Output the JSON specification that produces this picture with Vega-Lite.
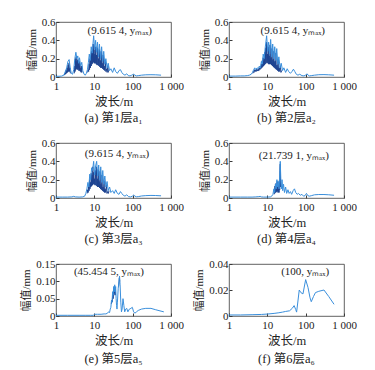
{
"$schema": "https://vega.github.io/schema/vega-lite/v6.json",
"padding": {"left": 20, "top": 15, "right": 2, "bottom": 0},
"data": {"name": "d"},
"datasets": {"d": [
{"p":"a","s":"T","x":46,"y":0.5,"t":"(9.615 4, yₘₐₓ)"},
{"p":"a","s":"L","x":1,"y":0.008},{"p":"a","s":"L","x":1.2,"y":0.008},{"p":"a","s":"L","x":1.4,"y":0.01},{"p":"a","s":"L","x":1.6,"y":0.02},{"p":"a","s":"L","x":1.75,"y":0.06},{"p":"a","s":"L","x":1.9,"y":0.1},{"p":"a","s":"L","x":2.05,"y":0.17},{"p":"a","s":"L","x":2.2,"y":0.19},{"p":"a","s":"L","x":2.35,"y":0.1},{"p":"a","s":"L","x":2.5,"y":0.04},{"p":"a","s":"L","x":2.7,"y":0.03},{"p":"a","s":"L","x":2.9,"y":0.08},{"p":"a","s":"L","x":3.1,"y":0.2},{"p":"a","s":"L","x":3.3,"y":0.27},{"p":"a","s":"L","x":3.5,"y":0.2},{"p":"a","s":"L","x":3.7,"y":0.23},{"p":"a","s":"L","x":3.9,"y":0.15},{"p":"a","s":"L","x":4.1,"y":0.21},{"p":"a","s":"L","x":4.4,"y":0.12},{"p":"a","s":"L","x":4.7,"y":0.16},{"p":"a","s":"L","x":5.0,"y":0.07},{"p":"a","s":"L","x":5.4,"y":0.03},{"p":"a","s":"L","x":5.8,"y":0.02},{"p":"a","s":"L","x":6.2,"y":0.04},{"p":"a","s":"L","x":6.6,"y":0.08},{"p":"a","s":"L","x":7.0,"y":0.16},{"p":"a","s":"L","x":7.4,"y":0.25},{"p":"a","s":"L","x":7.8,"y":0.18},{"p":"a","s":"L","x":8.3,"y":0.33},{"p":"a","s":"L","x":8.8,"y":0.26},{"p":"a","s":"L","x":9.6,"y":0.45},{"p":"a","s":"L","x":10.2,"y":0.3},{"p":"a","s":"L","x":10.8,"y":0.4},{"p":"a","s":"L","x":11.4,"y":0.27},{"p":"a","s":"L","x":12.1,"y":0.38},{"p":"a","s":"L","x":12.8,"y":0.22},{"p":"a","s":"L","x":13.6,"y":0.36},{"p":"a","s":"L","x":14.5,"y":0.2},{"p":"a","s":"L","x":15.5,"y":0.33},{"p":"a","s":"L","x":16.5,"y":0.17},{"p":"a","s":"L","x":17.6,"y":0.28},{"p":"a","s":"L","x":18.8,"y":0.14},{"p":"a","s":"L","x":20,"y":0.2},{"p":"a","s":"L","x":21.5,"y":0.1},{"p":"a","s":"L","x":23,"y":0.15},{"p":"a","s":"L","x":25,"y":0.07},{"p":"a","s":"L","x":27,"y":0.09},{"p":"a","s":"L","x":30,"y":0.05},{"p":"a","s":"L","x":33,"y":0.1},{"p":"a","s":"L","x":36,"y":0.06},{"p":"a","s":"L","x":40,"y":0.04},{"p":"a","s":"L","x":44,"y":0.07},{"p":"a","s":"L","x":48,"y":0.08},{"p":"a","s":"L","x":52,"y":0.05},{"p":"a","s":"L","x":57,"y":0.03},{"p":"a","s":"L","x":63,"y":0.02},{"p":"a","s":"L","x":70,"y":0.035},{"p":"a","s":"L","x":77,"y":0.015},{"p":"a","s":"L","x":85,"y":0.012},{"p":"a","s":"L","x":95,"y":0.02},{"p":"a","s":"L","x":105,"y":0.03},{"p":"a","s":"L","x":115,"y":0.02},{"p":"a","s":"L","x":125,"y":0.012},{"p":"a","s":"L","x":140,"y":0.015},{"p":"a","s":"L","x":170,"y":0.02},{"p":"a","s":"L","x":220,"y":0.024},{"p":"a","s":"L","x":300,"y":0.025},{"p":"a","s":"L","x":400,"y":0.024},{"p":"a","s":"L","x":550,"y":0.02},
{"p":"a","s":"D1","x":1.65,"y":0.02},{"p":"a","s":"D1","x":1.7,"y":0.04},{"p":"a","s":"D1","x":1.76,"y":0.03},{"p":"a","s":"D1","x":1.82,"y":0.07},{"p":"a","s":"D1","x":1.88,"y":0.04},{"p":"a","s":"D1","x":1.94,"y":0.1},{"p":"a","s":"D1","x":2.0,"y":0.05},{"p":"a","s":"D1","x":2.06,"y":0.13},{"p":"a","s":"D1","x":2.12,"y":0.06},{"p":"a","s":"D1","x":2.18,"y":0.15},{"p":"a","s":"D1","x":2.24,"y":0.06},{"p":"a","s":"D1","x":2.3,"y":0.1},{"p":"a","s":"D1","x":2.37,"y":0.04},
{"p":"a","s":"D2","x":3.0,"y":0.04},{"p":"a","s":"D2","x":3.07,"y":0.12},{"p":"a","s":"D2","x":3.14,"y":0.06},{"p":"a","s":"D2","x":3.21,"y":0.2},{"p":"a","s":"D2","x":3.28,"y":0.08},{"p":"a","s":"D2","x":3.36,"y":0.22},{"p":"a","s":"D2","x":3.44,"y":0.09},{"p":"a","s":"D2","x":3.52,"y":0.17},{"p":"a","s":"D2","x":3.6,"y":0.08},{"p":"a","s":"D2","x":3.68,"y":0.19},{"p":"a","s":"D2","x":3.76,"y":0.09},{"p":"a","s":"D2","x":3.85,"y":0.15},{"p":"a","s":"D2","x":3.94,"y":0.07},{"p":"a","s":"D2","x":4.03,"y":0.17},{"p":"a","s":"D2","x":4.13,"y":0.07},{"p":"a","s":"D2","x":4.23,"y":0.12},{"p":"a","s":"D2","x":4.33,"y":0.06},{"p":"a","s":"D2","x":4.44,"y":0.1},{"p":"a","s":"D2","x":4.55,"y":0.05},{"p":"a","s":"D2","x":4.66,"y":0.12},{"p":"a","s":"D2","x":4.78,"y":0.05},
{"p":"a","s":"D3","x":6.7,"y":0.05},{"p":"a","s":"D3","x":6.9,"y":0.08},{"p":"a","s":"D3","x":7.1,"y":0.06},{"p":"a","s":"D3","x":7.3,"y":0.14},{"p":"a","s":"D3","x":7.5,"y":0.08},{"p":"a","s":"D3","x":7.7,"y":0.2},{"p":"a","s":"D3","x":7.9,"y":0.1},{"p":"a","s":"D3","x":8.1,"y":0.22},{"p":"a","s":"D3","x":8.3,"y":0.12},{"p":"a","s":"D3","x":8.5,"y":0.28},{"p":"a","s":"D3","x":8.7,"y":0.14},{"p":"a","s":"D3","x":8.9,"y":0.3},{"p":"a","s":"D3","x":9.1,"y":0.15},{"p":"a","s":"D3","x":9.35,"y":0.36},{"p":"a","s":"D3","x":9.6,"y":0.16},{"p":"a","s":"D3","x":9.85,"y":0.3},{"p":"a","s":"D3","x":10.1,"y":0.15},{"p":"a","s":"D3","x":10.35,"y":0.25},{"p":"a","s":"D3","x":10.6,"y":0.15},{"p":"a","s":"D3","x":10.9,"y":0.33},{"p":"a","s":"D3","x":11.2,"y":0.14},{"p":"a","s":"D3","x":11.5,"y":0.24},{"p":"a","s":"D3","x":11.8,"y":0.13},{"p":"a","s":"D3","x":12.1,"y":0.32},{"p":"a","s":"D3","x":12.45,"y":0.13},{"p":"a","s":"D3","x":12.8,"y":0.2},{"p":"a","s":"D3","x":13.15,"y":0.12},{"p":"a","s":"D3","x":13.5,"y":0.3},{"p":"a","s":"D3","x":13.9,"y":0.11},{"p":"a","s":"D3","x":14.3,"y":0.18},{"p":"a","s":"D3","x":14.7,"y":0.1},{"p":"a","s":"D3","x":15.1,"y":0.28},{"p":"a","s":"D3","x":15.5,"y":0.1},{"p":"a","s":"D3","x":16.0,"y":0.15},{"p":"a","s":"D3","x":16.5,"y":0.09},{"p":"a","s":"D3","x":17.0,"y":0.24},{"p":"a","s":"D3","x":17.5,"y":0.08},{"p":"a","s":"D3","x":18.1,"y":0.12},{"p":"a","s":"D3","x":18.7,"y":0.07},{"p":"a","s":"D3","x":19.3,"y":0.17},{"p":"a","s":"D3","x":20,"y":0.06},{"p":"a","s":"D3","x":20.8,"y":0.09},{"p":"a","s":"D3","x":21.6,"y":0.05},{"p":"a","s":"D3","x":22.5,"y":0.12},{"p":"a","s":"D3","x":23.4,"y":0.05},

{"p":"b","s":"T","x":46,"y":0.5,"t":"(9.615 4, yₘₐₓ)"},
{"p":"b","s":"L","x":1,"y":0.01},{"p":"b","s":"L","x":1.5,"y":0.01},{"p":"b","s":"L","x":2,"y":0.012},{"p":"b","s":"L","x":2.5,"y":0.012},{"p":"b","s":"L","x":3,"y":0.015},{"p":"b","s":"L","x":3.4,"y":0.02},{"p":"b","s":"L","x":3.8,"y":0.03},{"p":"b","s":"L","x":4.1,"y":0.05},{"p":"b","s":"L","x":4.4,"y":0.08},{"p":"b","s":"L","x":4.7,"y":0.1},{"p":"b","s":"L","x":5.0,"y":0.08},{"p":"b","s":"L","x":5.4,"y":0.1},{"p":"b","s":"L","x":5.8,"y":0.09},{"p":"b","s":"L","x":6.2,"y":0.12},{"p":"b","s":"L","x":6.6,"y":0.1},{"p":"b","s":"L","x":7.0,"y":0.17},{"p":"b","s":"L","x":7.4,"y":0.14},{"p":"b","s":"L","x":7.8,"y":0.25},{"p":"b","s":"L","x":8.3,"y":0.2},{"p":"b","s":"L","x":8.8,"y":0.32},{"p":"b","s":"L","x":9.6,"y":0.45},{"p":"b","s":"L","x":10.2,"y":0.28},{"p":"b","s":"L","x":10.8,"y":0.38},{"p":"b","s":"L","x":11.5,"y":0.25},{"p":"b","s":"L","x":12.2,"y":0.41},{"p":"b","s":"L","x":13,"y":0.22},{"p":"b","s":"L","x":13.8,"y":0.36},{"p":"b","s":"L","x":14.7,"y":0.2},{"p":"b","s":"L","x":15.6,"y":0.33},{"p":"b","s":"L","x":16.6,"y":0.18},{"p":"b","s":"L","x":17.6,"y":0.31},{"p":"b","s":"L","x":18.8,"y":0.14},{"p":"b","s":"L","x":20,"y":0.22},{"p":"b","s":"L","x":21.5,"y":0.1},{"p":"b","s":"L","x":23,"y":0.15},{"p":"b","s":"L","x":25,"y":0.07},{"p":"b","s":"L","x":27,"y":0.1},{"p":"b","s":"L","x":30,"y":0.05},{"p":"b","s":"L","x":33,"y":0.09},{"p":"b","s":"L","x":36,"y":0.06},{"p":"b","s":"L","x":40,"y":0.04},{"p":"b","s":"L","x":44,"y":0.06},{"p":"b","s":"L","x":48,"y":0.085},{"p":"b","s":"L","x":52,"y":0.06},{"p":"b","s":"L","x":57,"y":0.03},{"p":"b","s":"L","x":63,"y":0.02},{"p":"b","s":"L","x":70,"y":0.03},{"p":"b","s":"L","x":80,"y":0.015},{"p":"b","s":"L","x":90,"y":0.012},{"p":"b","s":"L","x":100,"y":0.02},{"p":"b","s":"L","x":108,"y":0.035},{"p":"b","s":"L","x":116,"y":0.02},{"p":"b","s":"L","x":125,"y":0.012},{"p":"b","s":"L","x":140,"y":0.015},{"p":"b","s":"L","x":170,"y":0.02},{"p":"b","s":"L","x":220,"y":0.025},{"p":"b","s":"L","x":300,"y":0.026},{"p":"b","s":"L","x":400,"y":0.024},{"p":"b","s":"L","x":550,"y":0.02},
{"p":"b","s":"D1","x":4.2,"y":0.04},{"p":"b","s":"D1","x":4.35,"y":0.06},{"p":"b","s":"D1","x":4.5,"y":0.05},{"p":"b","s":"D1","x":4.65,"y":0.08},{"p":"b","s":"D1","x":4.8,"y":0.06},{"p":"b","s":"D1","x":4.95,"y":0.075},{"p":"b","s":"D1","x":5.1,"y":0.06},{"p":"b","s":"D1","x":5.25,"y":0.085},{"p":"b","s":"D1","x":5.4,"y":0.065},{"p":"b","s":"D1","x":5.55,"y":0.08},{"p":"b","s":"D1","x":5.7,"y":0.065},{"p":"b","s":"D1","x":5.85,"y":0.09},{"p":"b","s":"D1","x":6.0,"y":0.07},{"p":"b","s":"D1","x":6.2,"y":0.1},{"p":"b","s":"D1","x":6.4,"y":0.08},{"p":"b","s":"D1","x":6.6,"y":0.12},{"p":"b","s":"D1","x":6.8,"y":0.09},{"p":"b","s":"D1","x":7.0,"y":0.14},{"p":"b","s":"D1","x":7.2,"y":0.1},{"p":"b","s":"D1","x":7.4,"y":0.18},{"p":"b","s":"D1","x":7.6,"y":0.11},{"p":"b","s":"D1","x":7.8,"y":0.21},{"p":"b","s":"D1","x":8.0,"y":0.12},{"p":"b","s":"D1","x":8.2,"y":0.18},{"p":"b","s":"D1","x":8.4,"y":0.13},{"p":"b","s":"D1","x":8.6,"y":0.27},{"p":"b","s":"D1","x":8.8,"y":0.14},{"p":"b","s":"D1","x":9.05,"y":0.32},{"p":"b","s":"D1","x":9.3,"y":0.15},{"p":"b","s":"D1","x":9.55,"y":0.38},{"p":"b","s":"D1","x":9.8,"y":0.16},{"p":"b","s":"D1","x":10.05,"y":0.25},{"p":"b","s":"D1","x":10.3,"y":0.15},{"p":"b","s":"D1","x":10.55,"y":0.33},{"p":"b","s":"D1","x":10.85,"y":0.14},{"p":"b","s":"D1","x":11.15,"y":0.23},{"p":"b","s":"D1","x":11.45,"y":0.14},{"p":"b","s":"D1","x":11.8,"y":0.35},{"p":"b","s":"D1","x":12.15,"y":0.14},{"p":"b","s":"D1","x":12.5,"y":0.21},{"p":"b","s":"D1","x":12.85,"y":0.13},{"p":"b","s":"D1","x":13.2,"y":0.31},{"p":"b","s":"D1","x":13.6,"y":0.12},{"p":"b","s":"D1","x":14.0,"y":0.19},{"p":"b","s":"D1","x":14.4,"y":0.11},{"p":"b","s":"D1","x":14.8,"y":0.28},{"p":"b","s":"D1","x":15.2,"y":0.1},{"p":"b","s":"D1","x":15.7,"y":0.17},{"p":"b","s":"D1","x":16.2,"y":0.09},{"p":"b","s":"D1","x":16.7,"y":0.26},{"p":"b","s":"D1","x":17.2,"y":0.08},{"p":"b","s":"D1","x":17.8,"y":0.13},{"p":"b","s":"D1","x":18.4,"y":0.07},{"p":"b","s":"D1","x":19.0,"y":0.19},{"p":"b","s":"D1","x":19.7,"y":0.06},{"p":"b","s":"D1","x":20.4,"y":0.1},{"p":"b","s":"D1","x":21.1,"y":0.06},{"p":"b","s":"D1","x":21.9,"y":0.12},{"p":"b","s":"D1","x":22.7,"y":0.05},{"p":"b","s":"D1","x":23.6,"y":0.07},

{"p":"c","s":"T","x":39,"y":0.48,"t":"(9.615 4, yₘₐₓ)"},
{"p":"c","s":"L","x":1,"y":0.01},{"p":"c","s":"L","x":1.5,"y":0.01},{"p":"c","s":"L","x":2,"y":0.01},{"p":"c","s":"L","x":2.6,"y":0.012},{"p":"c","s":"L","x":2.9,"y":0.018},{"p":"c","s":"L","x":3.2,"y":0.012},{"p":"c","s":"L","x":4,"y":0.01},{"p":"c","s":"L","x":5,"y":0.012},{"p":"c","s":"L","x":5.6,"y":0.02},{"p":"c","s":"L","x":6.0,"y":0.05},{"p":"c","s":"L","x":6.4,"y":0.1},{"p":"c","s":"L","x":6.8,"y":0.17},{"p":"c","s":"L","x":7.2,"y":0.12},{"p":"c","s":"L","x":7.6,"y":0.26},{"p":"c","s":"L","x":8.0,"y":0.2},{"p":"c","s":"L","x":8.5,"y":0.33},{"p":"c","s":"L","x":9.0,"y":0.3},{"p":"c","s":"L","x":9.6,"y":0.4},{"p":"c","s":"L","x":10.2,"y":0.25},{"p":"c","s":"L","x":10.8,"y":0.35},{"p":"c","s":"L","x":11.5,"y":0.4},{"p":"c","s":"L","x":12.2,"y":0.24},{"p":"c","s":"L","x":13,"y":0.36},{"p":"c","s":"L","x":13.8,"y":0.2},{"p":"c","s":"L","x":14.7,"y":0.34},{"p":"c","s":"L","x":15.6,"y":0.17},{"p":"c","s":"L","x":16.6,"y":0.3},{"p":"c","s":"L","x":17.6,"y":0.15},{"p":"c","s":"L","x":18.8,"y":0.24},{"p":"c","s":"L","x":20,"y":0.12},{"p":"c","s":"L","x":21.5,"y":0.18},{"p":"c","s":"L","x":23,"y":0.08},{"p":"c","s":"L","x":25,"y":0.12},{"p":"c","s":"L","x":27,"y":0.06},{"p":"c","s":"L","x":30,"y":0.08},{"p":"c","s":"L","x":33,"y":0.05},{"p":"c","s":"L","x":36,"y":0.09},{"p":"c","s":"L","x":40,"y":0.05},{"p":"c","s":"L","x":44,"y":0.04},{"p":"c","s":"L","x":48,"y":0.07},{"p":"c","s":"L","x":52,"y":0.05},{"p":"c","s":"L","x":57,"y":0.03},{"p":"c","s":"L","x":63,"y":0.02},{"p":"c","s":"L","x":70,"y":0.035},{"p":"c","s":"L","x":78,"y":0.015},{"p":"c","s":"L","x":88,"y":0.012},{"p":"c","s":"L","x":98,"y":0.02},{"p":"c","s":"L","x":106,"y":0.032},{"p":"c","s":"L","x":115,"y":0.02},{"p":"c","s":"L","x":125,"y":0.013},{"p":"c","s":"L","x":140,"y":0.015},{"p":"c","s":"L","x":170,"y":0.022},{"p":"c","s":"L","x":220,"y":0.026},{"p":"c","s":"L","x":300,"y":0.028},{"p":"c","s":"L","x":400,"y":0.027},{"p":"c","s":"L","x":550,"y":0.024},
{"p":"c","s":"D1","x":6.5,"y":0.05},{"p":"c","s":"D1","x":6.7,"y":0.09},{"p":"c","s":"D1","x":6.9,"y":0.06},{"p":"c","s":"D1","x":7.1,"y":0.13},{"p":"c","s":"D1","x":7.3,"y":0.08},{"p":"c","s":"D1","x":7.5,"y":0.2},{"p":"c","s":"D1","x":7.7,"y":0.1},{"p":"c","s":"D1","x":7.9,"y":0.17},{"p":"c","s":"D1","x":8.1,"y":0.12},{"p":"c","s":"D1","x":8.3,"y":0.27},{"p":"c","s":"D1","x":8.5,"y":0.13},{"p":"c","s":"D1","x":8.7,"y":0.25},{"p":"c","s":"D1","x":8.9,"y":0.14},{"p":"c","s":"D1","x":9.15,"y":0.34},{"p":"c","s":"D1","x":9.4,"y":0.15},{"p":"c","s":"D1","x":9.65,"y":0.28},{"p":"c","s":"D1","x":9.9,"y":0.15},{"p":"c","s":"D1","x":10.15,"y":0.21},{"p":"c","s":"D1","x":10.4,"y":0.14},{"p":"c","s":"D1","x":10.7,"y":0.3},{"p":"c","s":"D1","x":11.0,"y":0.14},{"p":"c","s":"D1","x":11.3,"y":0.34},{"p":"c","s":"D1","x":11.6,"y":0.13},{"p":"c","s":"D1","x":11.9,"y":0.21},{"p":"c","s":"D1","x":12.25,"y":0.12},{"p":"c","s":"D1","x":12.6,"y":0.31},{"p":"c","s":"D1","x":12.95,"y":0.12},{"p":"c","s":"D1","x":13.3,"y":0.18},{"p":"c","s":"D1","x":13.7,"y":0.11},{"p":"c","s":"D1","x":14.1,"y":0.29},{"p":"c","s":"D1","x":14.5,"y":0.1},{"p":"c","s":"D1","x":14.9,"y":0.15},{"p":"c","s":"D1","x":15.3,"y":0.09},{"p":"c","s":"D1","x":15.8,"y":0.25},{"p":"c","s":"D1","x":16.3,"y":0.08},{"p":"c","s":"D1","x":16.8,"y":0.12},{"p":"c","s":"D1","x":17.3,"y":0.07},{"p":"c","s":"D1","x":17.9,"y":0.19},{"p":"c","s":"D1","x":18.5,"y":0.06},{"p":"c","s":"D1","x":19.1,"y":0.1},{"p":"c","s":"D1","x":19.8,"y":0.06},{"p":"c","s":"D1","x":20.6,"y":0.14},{"p":"c","s":"D1","x":21.4,"y":0.05},{"p":"c","s":"D1","x":22.3,"y":0.07},{"p":"c","s":"D1","x":23.2,"y":0.05},{"p":"c","s":"D1","x":24.2,"y":0.08},

{"p":"d","s":"T","x":49,"y":0.46,"t":"(21.739 1, yₘₐₓ)"},
{"p":"d","s":"L","x":1,"y":0.01},{"p":"d","s":"L","x":2,"y":0.01},{"p":"d","s":"L","x":3,"y":0.01},{"p":"d","s":"L","x":4,"y":0.01},{"p":"d","s":"L","x":5,"y":0.012},{"p":"d","s":"L","x":6,"y":0.015},{"p":"d","s":"L","x":6.5,"y":0.018},{"p":"d","s":"L","x":7,"y":0.012},{"p":"d","s":"L","x":8,"y":0.01},{"p":"d","s":"L","x":10,"y":0.01},{"p":"d","s":"L","x":12,"y":0.012},{"p":"d","s":"L","x":13,"y":0.02},{"p":"d","s":"L","x":14,"y":0.04},{"p":"d","s":"L","x":14.8,"y":0.1},{"p":"d","s":"L","x":15.5,"y":0.06},{"p":"d","s":"L","x":16.2,"y":0.15},{"p":"d","s":"L","x":17,"y":0.1},{"p":"d","s":"L","x":17.8,"y":0.2},{"p":"d","s":"L","x":18.6,"y":0.12},{"p":"d","s":"L","x":19.4,"y":0.18},{"p":"d","s":"L","x":20.2,"y":0.1},{"p":"d","s":"L","x":21,"y":0.25},{"p":"d","s":"L","x":21.74,"y":0.4},{"p":"d","s":"L","x":22.5,"y":0.2},{"p":"d","s":"L","x":23.3,"y":0.1},{"p":"d","s":"L","x":24.2,"y":0.2},{"p":"d","s":"L","x":25.2,"y":0.08},{"p":"d","s":"L","x":26.5,"y":0.15},{"p":"d","s":"L","x":28,"y":0.06},{"p":"d","s":"L","x":30,"y":0.12},{"p":"d","s":"L","x":32,"y":0.05},{"p":"d","s":"L","x":34.5,"y":0.09},{"p":"d","s":"L","x":37,"y":0.05},{"p":"d","s":"L","x":40,"y":0.07},{"p":"d","s":"L","x":43,"y":0.04},{"p":"d","s":"L","x":47,"y":0.08},{"p":"d","s":"L","x":51,"y":0.1},{"p":"d","s":"L","x":55,"y":0.06},{"p":"d","s":"L","x":60,"y":0.04},{"p":"d","s":"L","x":65,"y":0.05},{"p":"d","s":"L","x":72,"y":0.03},{"p":"d","s":"L","x":80,"y":0.04},{"p":"d","s":"L","x":88,"y":0.02},{"p":"d","s":"L","x":96,"y":0.025},{"p":"d","s":"L","x":105,"y":0.05},{"p":"d","s":"L","x":114,"y":0.025},{"p":"d","s":"L","x":125,"y":0.02},{"p":"d","s":"L","x":140,"y":0.025},{"p":"d","s":"L","x":170,"y":0.035},{"p":"d","s":"L","x":220,"y":0.038},{"p":"d","s":"L","x":300,"y":0.038},{"p":"d","s":"L","x":400,"y":0.035},{"p":"d","s":"L","x":550,"y":0.03},
{"p":"d","s":"D1","x":15,"y":0.04},{"p":"d","s":"D1","x":15.25,"y":0.09},{"p":"d","s":"D1","x":15.5,"y":0.05},{"p":"d","s":"D1","x":15.75,"y":0.13},{"p":"d","s":"D1","x":16.0,"y":0.06},{"p":"d","s":"D1","x":16.3,"y":0.11},{"p":"d","s":"D1","x":16.6,"y":0.06},{"p":"d","s":"D1","x":16.9,"y":0.16},{"p":"d","s":"D1","x":17.2,"y":0.07},{"p":"d","s":"D1","x":17.5,"y":0.12},{"p":"d","s":"D1","x":17.8,"y":0.07},{"p":"d","s":"D1","x":18.1,"y":0.18},{"p":"d","s":"D1","x":18.4,"y":0.08},{"p":"d","s":"D1","x":18.7,"y":0.1},{"p":"d","s":"D1","x":19.0,"y":0.06},{"p":"d","s":"D1","x":19.3,"y":0.15},{"p":"d","s":"D1","x":19.6,"y":0.07},{"p":"d","s":"D1","x":19.9,"y":0.09},{"p":"d","s":"D1","x":20.2,"y":0.06},{"p":"d","s":"D1","x":20.6,"y":0.19},{"p":"d","s":"D1","x":21.0,"y":0.09},{"p":"d","s":"D1","x":21.4,"y":0.3},{"p":"d","s":"D1","x":21.74,"y":0.37},{"p":"d","s":"D1","x":22.1,"y":0.12},

{"p":"e","s":"T","x":24,"y":0.126,"t":"(45.454 5, yₘₐₓ)"},
{"p":"e","s":"L","x":1,"y":0.002},{"p":"e","s":"L","x":2,"y":0.002},{"p":"e","s":"L","x":4,"y":0.002},{"p":"e","s":"L","x":6,"y":0.002},{"p":"e","s":"L","x":8,"y":0.002},{"p":"e","s":"L","x":9.5,"y":0.002},{"p":"e","s":"L","x":10,"y":0.005},{"p":"e","s":"L","x":12,"y":0.005},{"p":"e","s":"L","x":15,"y":0.005},{"p":"e","s":"L","x":18,"y":0.006},{"p":"e","s":"L","x":20,"y":0.006},{"p":"e","s":"L","x":22,"y":0.008},{"p":"e","s":"L","x":23.5,"y":0.012},{"p":"e","s":"L","x":25,"y":0.01},{"p":"e","s":"L","x":26,"y":0.02},{"p":"e","s":"L","x":27,"y":0.025},{"p":"e","s":"L","x":28,"y":0.045},{"p":"e","s":"L","x":29,"y":0.04},{"p":"e","s":"L","x":30,"y":0.07},{"p":"e","s":"L","x":31,"y":0.06},{"p":"e","s":"L","x":32,"y":0.085},{"p":"e","s":"L","x":33,"y":0.07},{"p":"e","s":"L","x":34,"y":0.09},{"p":"e","s":"L","x":35,"y":0.07},{"p":"e","s":"L","x":36,"y":0.085},{"p":"e","s":"L","x":37,"y":0.05},{"p":"e","s":"L","x":38,"y":0.03},{"p":"e","s":"L","x":39,"y":0.02},{"p":"e","s":"L","x":40,"y":0.04},{"p":"e","s":"L","x":42,"y":0.08},{"p":"e","s":"L","x":44,"y":0.1},{"p":"e","s":"L","x":45.45,"y":0.115},{"p":"e","s":"L","x":47,"y":0.09},{"p":"e","s":"L","x":49,"y":0.04},{"p":"e","s":"L","x":51,"y":0.012},{"p":"e","s":"L","x":53,"y":0.02},{"p":"e","s":"L","x":56,"y":0.05},{"p":"e","s":"L","x":59,"y":0.03},{"p":"e","s":"L","x":62,"y":0.012},{"p":"e","s":"L","x":66,"y":0.02},{"p":"e","s":"L","x":70,"y":0.022},{"p":"e","s":"L","x":75,"y":0.012},{"p":"e","s":"L","x":82,"y":0.02},{"p":"e","s":"L","x":90,"y":0.022},{"p":"e","s":"L","x":98,"y":0.025},{"p":"e","s":"L","x":106,"y":0.012},{"p":"e","s":"L","x":115,"y":0.008},{"p":"e","s":"L","x":125,"y":0.012},{"p":"e","s":"L","x":140,"y":0.016},{"p":"e","s":"L","x":170,"y":0.02},{"p":"e","s":"L","x":220,"y":0.022},{"p":"e","s":"L","x":300,"y":0.022},{"p":"e","s":"L","x":400,"y":0.018},{"p":"e","s":"L","x":550,"y":0.014},{"p":"e","s":"L","x":650,"y":0.012},
{"p":"e","s":"D1","x":27.8,"y":0.035},{"p":"e","s":"D1","x":28.6,"y":0.045},{"p":"e","s":"D1","x":29.4,"y":0.04},{"p":"e","s":"D1","x":30.2,"y":0.065},{"p":"e","s":"D1","x":31,"y":0.05},{"p":"e","s":"D1","x":31.8,"y":0.08},{"p":"e","s":"D1","x":32.6,"y":0.06},{"p":"e","s":"D1","x":33.4,"y":0.085},{"p":"e","s":"D1","x":34.2,"y":0.065},{"p":"e","s":"D1","x":35,"y":0.08},{"p":"e","s":"D1","x":35.8,"y":0.06},
{"p":"e","s":"D2","x":43,"y":0.085},{"p":"e","s":"D2","x":44,"y":0.095},{"p":"e","s":"D2","x":45,"y":0.11},{"p":"e","s":"D2","x":46,"y":0.1},

{"p":"f","s":"T","x":97,"y":0.0335,"t":"(100, yₘₐₓ)"},
{"p":"f","s":"L","x":1,"y":0.0008},{"p":"f","s":"L","x":2,"y":0.0008},{"p":"f","s":"L","x":4,"y":0.001},{"p":"f","s":"L","x":7,"y":0.0012},{"p":"f","s":"L","x":10,"y":0.0015},{"p":"f","s":"L","x":15,"y":0.002},{"p":"f","s":"L","x":20,"y":0.0025},{"p":"f","s":"L","x":25,"y":0.003},{"p":"f","s":"L","x":30,"y":0.0035},{"p":"f","s":"L","x":38,"y":0.004},{"p":"f","s":"L","x":45,"y":0.006},{"p":"f","s":"L","x":50,"y":0.008},{"p":"f","s":"L","x":55,"y":0.005},{"p":"f","s":"L","x":58,"y":0.003},{"p":"f","s":"L","x":62,"y":0.01},{"p":"f","s":"L","x":68,"y":0.02},{"p":"f","s":"L","x":75,"y":0.018},{"p":"f","s":"L","x":85,"y":0.017},{"p":"f","s":"L","x":100,"y":0.028},{"p":"f","s":"L","x":115,"y":0.022},{"p":"f","s":"L","x":130,"y":0.014},{"p":"f","s":"L","x":140,"y":0.011},{"p":"f","s":"L","x":160,"y":0.015},{"p":"f","s":"L","x":180,"y":0.018},{"p":"f","s":"L","x":220,"y":0.019},{"p":"f","s":"L","x":300,"y":0.02},{"p":"f","s":"L","x":400,"y":0.015},{"p":"f","s":"L","x":550,"y":0.009}
]},
"columns": 2,
"spacing": {"row": 11, "column": 9},
"concat": [
{"width":115,"height":55,"title":{"text":"(a) 第1层a₁"},"transform":[{"filter":"datum.p=='a'"}],
 "encoding":{"x":{"field":"x","type":"quantitative","scale":{"type":"log","domain":[1,1000]},"axis":{"values":[1,10,100,1000],"labelExpr":"datum.value==1000?'1 000':datum.label","title":"波长/m"}},
  "y":{"field":"y","type":"quantitative","scale":{"domain":[0,0.6]},"axis":{"values":[0,0.2,0.4,0.6],"labelExpr":"datum.value==0?'0':format(datum.value,'.1f')","title":"幅值/mm"}}},
 "layer":[
  {"transform":[{"filter":"datum.s!='L'&&datum.s!='T'"}],"mark":{"type":"line","color":"#1d4391","strokeWidth":1},"encoding":{"detail":{"field":"s"}}},
  {"transform":[{"filter":"datum.s=='L'"}],"mark":{"type":"line","color":"#3a8fdc","strokeWidth":1}},
  {"transform":[{"filter":"datum.s=='T'"}],"mark":{"type":"text","fontSize":11},"encoding":{"text":{"field":"t"}}}
 ]},
{"width":115,"height":55,"title":{"text":"(b) 第2层a₂"},"transform":[{"filter":"datum.p=='b'"}],
 "encoding":{"x":{"field":"x","type":"quantitative","scale":{"type":"log","domain":[1,1000]},"axis":{"values":[1,10,100,1000],"labelExpr":"datum.value==1000?'1 000':datum.label","title":"波长/m"}},
  "y":{"field":"y","type":"quantitative","scale":{"domain":[0,0.6]},"axis":{"values":[0,0.2,0.4,0.6],"labelExpr":"datum.value==0?'0':format(datum.value,'.1f')","title":"幅值/mm"}}},
 "layer":[
  {"transform":[{"filter":"datum.s!='L'&&datum.s!='T'"}],"mark":{"type":"line","color":"#1d4391","strokeWidth":1},"encoding":{"detail":{"field":"s"}}},
  {"transform":[{"filter":"datum.s=='L'"}],"mark":{"type":"line","color":"#3a8fdc","strokeWidth":1}},
  {"transform":[{"filter":"datum.s=='T'"}],"mark":{"type":"text","fontSize":11},"encoding":{"text":{"field":"t"}}}
 ]},
{"width":115,"height":55,"title":{"text":"(c) 第3层a₃"},"transform":[{"filter":"datum.p=='c'"}],
 "encoding":{"x":{"field":"x","type":"quantitative","scale":{"type":"log","domain":[1,1000]},"axis":{"values":[1,10,100,1000],"labelExpr":"datum.value==1000?'1 000':datum.label","title":"波长/m"}},
  "y":{"field":"y","type":"quantitative","scale":{"domain":[0,0.6]},"axis":{"values":[0,0.2,0.4,0.6],"labelExpr":"datum.value==0?'0':format(datum.value,'.1f')","title":"幅值/mm"}}},
 "layer":[
  {"transform":[{"filter":"datum.s!='L'&&datum.s!='T'"}],"mark":{"type":"line","color":"#1d4391","strokeWidth":1},"encoding":{"detail":{"field":"s"}}},
  {"transform":[{"filter":"datum.s=='L'"}],"mark":{"type":"line","color":"#3a8fdc","strokeWidth":1}},
  {"transform":[{"filter":"datum.s=='T'"}],"mark":{"type":"text","fontSize":11},"encoding":{"text":{"field":"t"}}}
 ]},
{"width":115,"height":55,"title":{"text":"(d) 第4层a₄"},"transform":[{"filter":"datum.p=='d'"}],
 "encoding":{"x":{"field":"x","type":"quantitative","scale":{"type":"log","domain":[1,1000]},"axis":{"values":[1,10,100,1000],"labelExpr":"datum.value==1000?'1 000':datum.label","title":"波长/m"}},
  "y":{"field":"y","type":"quantitative","scale":{"domain":[0,0.6]},"axis":{"values":[0,0.2,0.4,0.6],"labelExpr":"datum.value==0?'0':format(datum.value,'.1f')","title":"幅值/mm"}}},
 "layer":[
  {"transform":[{"filter":"datum.s!='L'&&datum.s!='T'"}],"mark":{"type":"line","color":"#1d4391","strokeWidth":1},"encoding":{"detail":{"field":"s"}}},
  {"transform":[{"filter":"datum.s=='L'"}],"mark":{"type":"line","color":"#3a8fdc","strokeWidth":1}},
  {"transform":[{"filter":"datum.s=='T'"}],"mark":{"type":"text","fontSize":11},"encoding":{"text":{"field":"t"}}}
 ]},
{"width":115,"height":52,"title":{"text":"(e) 第5层a₅","offset":6},"transform":[{"filter":"datum.p=='e'"}],
 "encoding":{"x":{"field":"x","type":"quantitative","scale":{"type":"log","domain":[1,1000]},"axis":{"values":[1,10,100,1000],"labelExpr":"datum.value==1000?'1 000':datum.label","title":"波长/m"}},
  "y":{"field":"y","type":"quantitative","scale":{"domain":[0,0.15]},"axis":{"values":[0,0.05,0.1,0.15],"labelExpr":"datum.value==0?'0':format(datum.value,'.2f')","title":"幅值/mm"}}},
 "layer":[
  {"transform":[{"filter":"datum.s!='L'&&datum.s!='T'"}],"mark":{"type":"line","color":"#1d4391","strokeWidth":1},"encoding":{"detail":{"field":"s"}}},
  {"transform":[{"filter":"datum.s=='L'"}],"mark":{"type":"line","color":"#3a8fdc","strokeWidth":1}},
  {"transform":[{"filter":"datum.s=='T'"}],"mark":{"type":"text","fontSize":11},"encoding":{"text":{"field":"t"}}}
 ]},
{"width":115,"height":52,"title":{"text":"(f) 第6层a₆","offset":6},"transform":[{"filter":"datum.p=='f'"}],
 "encoding":{"x":{"field":"x","type":"quantitative","scale":{"type":"log","domain":[1,1000]},"axis":{"values":[1,10,100,1000],"labelExpr":"datum.value==1000?'1 000':datum.label","title":"波长/m"}},
  "y":{"field":"y","type":"quantitative","scale":{"domain":[0,0.04]},"axis":{"values":[0,0.02,0.04],"labelExpr":"datum.value==0?'0':format(datum.value,'.2f')","title":"幅值/mm"}}},
 "layer":[
  {"transform":[{"filter":"datum.s=='L'"}],"mark":{"type":"line","color":"#3a8fdc","strokeWidth":1}},
  {"transform":[{"filter":"datum.s=='T'"}],"mark":{"type":"text","fontSize":11},"encoding":{"text":{"field":"t"}}}
 ]}
],
"config": {
 "font": "Liberation Serif, Noto Sans CJK SC",
 "view": {"stroke": "#3a3a3a", "strokeWidth": 0.8},
 "text": {"font": "Liberation Serif, Noto Sans CJK SC", "color": "#222"},
 "axis": {"domain": false, "grid": false, "tickSize": -3, "tickColor": "#3a3a3a", "labelFont": "Liberation Serif, Noto Sans CJK SC", "labelFontSize": 11, "labelColor": "#222", "titleFont": "Liberation Serif, Noto Sans CJK SC", "titleFontWeight": "normal", "titleColor": "#222"},
 "axisX": {"labelPadding": 6, "titlePadding": 4, "titleFontSize": 12.5, "labelFlush": false},
 "axisY": {"labelPadding": 4, "titlePadding": 4, "titleFontSize": 11},
 "title": {"orient": "bottom", "fontSize": 12.5, "fontWeight": "normal", "offset": 0, "color": "#222", "font": "Liberation Serif, Noto Sans CJK SC"}
}
}
